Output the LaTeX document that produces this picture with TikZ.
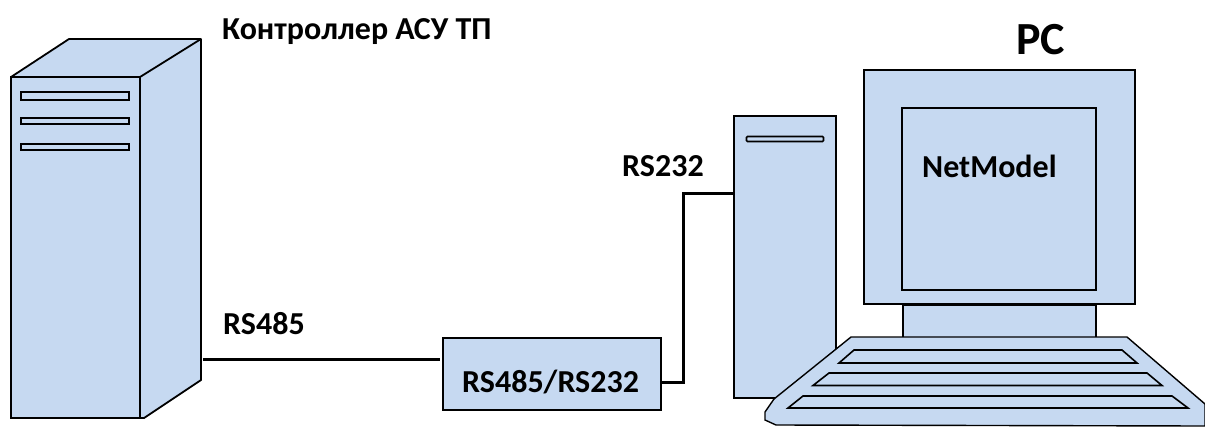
\documentclass[tikz,border=0pt]{standalone}
\usepackage{fontspec}
\setmainfont{Carlito}
\usepackage{tikz}
\usetikzlibrary{
  positioning,
  calc,
}
\definecolor{unitFill}{HTML}{C6D9F1}
\tikzset{
  unit/.style={
    rectangle, draw=black, fill=unitFill, line width=1.6pt, inner sep=0pt,
  },
  slotBar/.style={
    rectangle, draw=black, fill=unitFill, line width=2pt, inner sep=0pt,
  },
  keyRow/.style={
    draw=black, fill=unitFill, line width=1.6pt, line join=miter,
  },
  cable/.style={
    line width=3pt, draw=black,
  },
  tag/.style={
    inner sep=0pt, font=\bfseries\fontsize{32}{34}\selectfont, anchor=base west,
  },
}
\begin{document}
\begin{tikzpicture}[x=1pt,y=-1pt]
\useasboundingbox (0,0) rectangle (1205,426);
% controller cabinet
\draw[unit, line width=1.8pt, line join=round] (11,77) -- (69,39) -- (201,39) -- (201,380) -- (144,418) -- (140,418) -- (140,77) -- cycle;
\draw[line width=1.8pt] (140,77) -- (201,39);
\node[unit, minimum width=129pt, minimum height=341pt, line width=2pt] (rack) at (75.5,247.5) {};
\node[slotBar, minimum width=108pt, minimum height=8pt] (rackSlotA) at (75,96) {};
\node[slotBar, minimum width=108pt, minimum height=6pt] (rackSlotB) at (75,121) {};
\node[slotBar, minimum width=108pt, minimum height=6pt] (rackSlotC) at (75,146.5) {};
% pc tower
\node[unit, minimum width=102pt, minimum height=282pt] (tower) at (785,257) {};
\node[slotBar, minimum width=77pt, minimum height=5pt, rounded corners=1pt, line width=1.6pt] (towerSlot) at (785,139) {};
% monitor
\node[unit, minimum width=271pt, minimum height=234pt] (monitor) at (999.5,187) {};
\node[unit, minimum width=194pt, minimum height=182pt] (screen) at (999,199) {};
\node[unit, minimum width=193pt, minimum height=34pt, below=0pt of monitor] (stand) {};
% keyboard
\draw[keyRow, line width=1.4pt] (851,337) -- (1127,337) -- (1205,404) -- (1205,426) -- (776,425) -- (765,420) -- (765,412) -- (774,399) -- cycle;
\draw[keyRow] (854,350) -- (1122,350) -- (1137,363) -- (839,363) -- cycle;
\draw[keyRow] (829,373) -- (1147,373) -- (1162,385.5) -- (813,385.5) -- cycle;
\draw[keyRow] (803,396) -- (1172,396) -- (1188,408) -- (788,408) -- cycle;
% converter
\node[unit, minimum width=218pt, minimum height=72pt] (conv) at (552,374) {};
% links
\coordinate (rackPort) at (203,359);
\coordinate (convPort) at (661,382.5);
\coordinate (towerPort) at (735,193);
\draw[cable, shorten >=2pt] (rackPort) -- (conv.west |- rackPort);
\draw[cable] (convPort) -- (683,382.5) -- (683,193) -- (towerPort);
% labels
\node[tag] (rackTag) at (222,39) {Контроллер АСУ ТП};
\node[tag] (rs485Tag) at (223,334) {RS485};
\node[tag] (rs232Tag) at (622,176) {RS232};
\node[tag] (convTag) at (462,392) {RS485/RS232};
\node[tag] (appTag) at (922,177) {NetModel};
\node[tag, font=\bfseries\fontsize{46}{48}\selectfont] (pcTag) at (1016,54) {PC};
\end{tikzpicture}
\end{document}
